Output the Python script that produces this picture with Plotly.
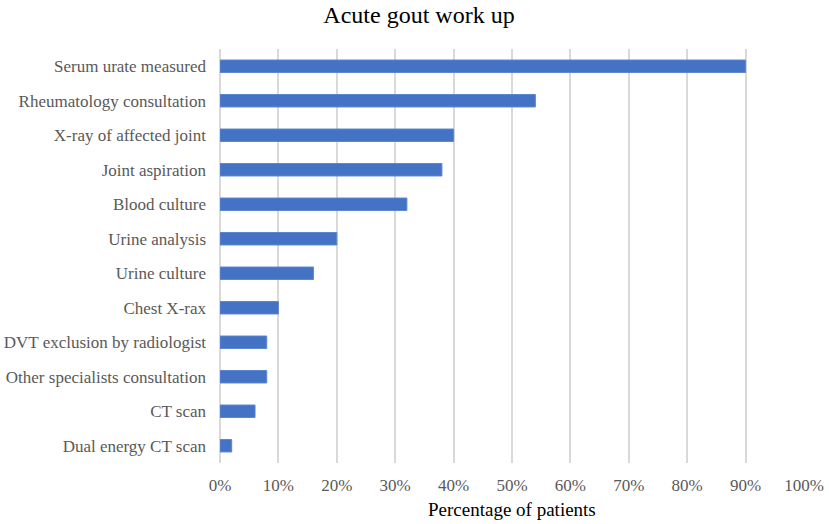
import plotly.graph_objects as go

categories = [
    "Serum urate measured",
    "Rheumatology consultation",
    "X-ray of affected joint",
    "Joint aspiration",
    "Blood culture",
    "Urine analysis",
    "Urine culture",
    "Chest X-rax",
    "DVT exclusion by radiologist",
    "Other specialists consultation",
    "CT scan",
    "Dual energy CT scan",
]
percent_patients = [90, 54, 40, 38, 32, 20, 16, 10, 8, 8, 6, 2]
x_ticks = [0, 10, 20, 30, 40, 50, 60, 70, 80, 90, 100]

FONT = "Liberation Serif"

fig = go.Figure(
    go.Bar(
        x=percent_patients,
        y=categories,
        orientation="h",
        marker=dict(color="#4472C4", line=dict(color="#5B85D0", width=1)),
        hoverinfo="x+y",
    )
)

fig.update_layout(
    width=829,
    height=524,
    margin=dict(l=220, r=25, t=49, b=61, autoexpand=False),
    paper_bgcolor="white",
    plot_bgcolor="white",
    bargap=0.64,
    showlegend=False,
    font=dict(family=FONT, size=17, color="#595959"),
    title=dict(
        text="Acute gout work up",
        font=dict(family=FONT, size=24, color="#000000"),
        x=419 / 829,
        xref="container",
        xanchor="center",
        y=1 - 15 / 524,
        yref="container",
        yanchor="middle",
    ),
    xaxis=dict(
        range=[0, 100],
        tickvals=x_ticks,
        ticktext=[f"{v}%" for v in x_ticks],
        showgrid=True,
        gridcolor="#D9D9D9",
        gridwidth=1.5,
        zeroline=True,
        zerolinecolor="#D9D9D9",
        zerolinewidth=1.5,
        showline=False,
        ticks="",
        ticklabelstandoff=10,
        tickfont=dict(family=FONT, size=17, color="#595959"),
        fixedrange=True,
        automargin=False,
    ),
    yaxis=dict(
        categoryorder="array",
        categoryarray=categories[::-1],
        showgrid=False,
        zeroline=False,
        showline=False,
        ticks="",
        ticklabelstandoff=13,
        tickfont=dict(family=FONT, size=17, color="#595959"),
        fixedrange=True,
        automargin=False,
    ),
    annotations=[
        dict(
            text="Percentage of patients",
            xref="paper",
            yref="paper",
            x=0.5,
            y=-(509 - 463) / 414,
            xanchor="center",
            yanchor="middle",
            showarrow=False,
            font=dict(family=FONT, size=19, color="#000000"),
        )
    ],
)

fig.write_html(
    "out.html",
    config={"displayModeBar": False},
    post_script="document.body.style.margin='0';",
)
